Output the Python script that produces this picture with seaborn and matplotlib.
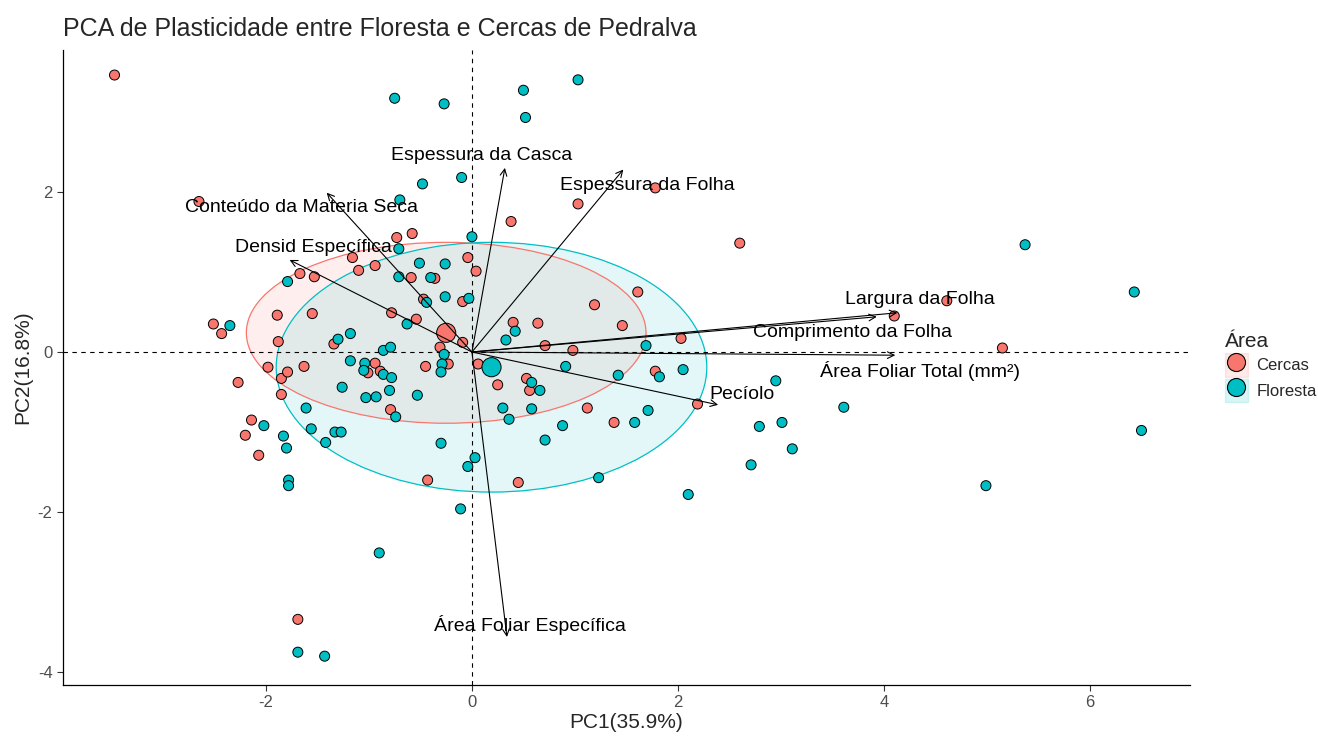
import numpy as np
import pandas as pd
import seaborn as sns
import matplotlib
matplotlib.use("Agg")
import matplotlib.pyplot as plt
from matplotlib.patches import Ellipse, Patch
from matplotlib.lines import Line2D
from matplotlib.legend_handler import HandlerTuple

# scores dos individuos
cercas_pc1 = [-3.47, -2.65, -0.73, -0.58, -1.16, -0.94, -1.10, -1.67, -1.53, -0.59,
              -0.36, -0.47, -1.89, -1.55, -0.78, -0.54, -2.51, -2.43, -1.88, -1.34,
              -0.04, 0.04, -0.09, -0.09, -0.31, 0.38, 1.61, 1.19, 1.46, 0.40,
              0.64, 0.71, 0.98, 2.03, 1.03, 1.78, 2.60, 4.61, 4.10, 5.15,
              0.45, -0.43, 2.19, 1.38, 1.12, 1.78, 0.53, 0.56, 0.25, 0.06,
              -0.45, -0.23, -1.98, -2.27, -1.85, -1.79, -1.63, -1.85, -2.14, -2.20,
              -2.07, -0.94, -1.01, -0.89, -0.79, -1.69]
cercas_pc2 = [3.46, 1.88, 1.43, 1.48, 1.18, 1.08, 1.02, 0.98, 0.94, 0.93,
              0.92, 0.66, 0.46, 0.48, 0.49, 0.41, 0.35, 0.23, 0.13, 0.10,
              1.18, 1.01, 0.63, 0.12, 0.06, 1.63, 0.75, 0.59, 0.33, 0.37,
              0.36, 0.08, 0.02, 0.17, 1.85, 2.05, 1.36, 0.64, 0.45, 0.05,
              -1.63, -1.60, -0.65, -0.88, -0.70, -0.24, -0.33, -0.48, -0.41, -0.15,
              -0.18, -0.15, -0.19, -0.38, -0.33, -0.25, -0.18, -0.53, -0.85, -1.04,
              -1.29, -0.14, -0.26, -0.24, -0.72, -3.34]

floresta_pc1 = [-0.75, -0.48, -0.70, -0.71, -0.51, -1.79, -0.71, -0.40, -0.44, -0.63,
                -2.35, -1.30, -1.18, -0.86, -0.79, 0.00, -0.26, -0.26, -0.03, -0.27,
                0.42, 0.33, 1.69, -0.27, 0.50, 1.03, 0.52, -0.10, 5.37, 6.43,
                3.61, 3.01, 3.11, 4.99, 6.50, 2.95, 2.79, 2.71, 2.10, 1.23,
                -0.11, 0.03, -0.04, -0.30, 1.71, 1.58, 0.88, 0.71, 0.36, 0.30,
                0.58, 2.05, 1.82, 1.42, 0.91, 0.58, 0.66, -0.29, -0.30, -1.61,
                -2.02, -1.83, -1.80, -1.78, -1.78, -1.56, -1.33, -1.27, -1.42, -1.26,
                -1.18, -1.04, -1.05, -0.86, -0.78, -0.80, -1.03, -0.93, -0.74, -0.53,
                -0.90, -1.69, -1.43]
floresta_pc2 = [3.17, 2.10, 1.90, 1.29, 1.11, 0.88, 0.94, 0.93, 0.62, 0.35,
                0.33, 0.16, 0.23, 0.02, 0.06, 1.44, 1.10, 0.69, 0.67, -0.03,
                0.26, 0.15, 0.08, 3.10, 3.27, 3.40, 2.93, 2.18, 1.34, 0.75,
                -0.69, -0.88, -1.21, -1.67, -0.98, -0.36, -0.93, -1.41, -1.78, -1.57,
                -1.96, -1.32, -1.43, -1.14, -0.73, -0.88, -0.92, -1.10, -0.84, -0.70,
                -0.71, -0.22, -0.31, -0.29, -0.18, -0.38, -0.48, -0.15, -0.25, -0.70,
                -0.92, -1.05, -1.20, -1.60, -1.67, -0.96, -1.00, -1.00, -1.13, -0.44,
                -0.11, -0.14, -0.23, -0.28, -0.32, -0.48, -0.57, -0.56, -0.81, -0.54,
                -2.51, -3.75, -3.80]

# centroides dos grupos
grupos = ["Cercas", "Floresta"]
centro_pc1 = [-0.25, 0.19]
centro_pc2 = [0.24, -0.19]
# elipses (semi-eixos)
elipse_a = [1.94, 2.09]
elipse_b = [1.13, 1.56]

# variaveis (setas)
variaveis = ["Espessura da Casca", "Espessura da Folha", "Conteúdo da Materia Seca",
             "Densid Específica", "Largura da Folha", "Comprimento da Folha",
             "Área Foliar Total (mm²)", "Pecíolo", "Área Foliar Específica"]
var_pc1 = [0.32, 1.47, -1.41, -1.77, 4.13, 3.93, 4.11, 2.39, 0.34]
var_pc2 = [2.30, 2.28, 1.99, 1.15, 0.49, 0.44, -0.04, -0.66, -3.56]

cores = {"Cercas": "#F8766D", "Floresta": "#00BFC4"}

df = pd.DataFrame({
    "PC1": cercas_pc1 + floresta_pc1,
    "PC2": cercas_pc2 + floresta_pc2,
    "Área": ["Cercas"] * len(cercas_pc1) + ["Floresta"] * len(floresta_pc1),
})

sns.set_theme(style="white")
plt.rcParams["font.family"] = ["Liberation Sans", "DejaVu Sans"]
plt.rcParams["axes.unicode_minus"] = False

fig = plt.figure(figsize=(13.18, 7.36), dpi=100)
ax = fig.add_axes([0.0478, 0.0693, 0.855, 0.863])

# elipses
for g, cx, cy, a, b in zip(grupos, centro_pc1, centro_pc2, elipse_a, elipse_b):
    ax.add_patch(Ellipse((cx, cy), 2 * a, 2 * b, facecolor=cores[g], alpha=0.11,
                         edgecolor="none", zorder=1))
    ax.add_patch(Ellipse((cx, cy), 2 * a, 2 * b, facecolor="none",
                         edgecolor=cores[g], lw=0.9, zorder=1.5))

ax.axhline(0, color="black", lw=0.8, ls=(0, (4, 4)), zorder=2)
ax.axvline(0, color="black", lw=0.8, ls=(0, (4, 4)), zorder=2)

sns.scatterplot(data=df, x="PC1", y="PC2", hue="Área", palette=cores, s=52,
                edgecolor="black", linewidth=0.7, legend=False, ax=ax, zorder=3)

# centroides
sns.scatterplot(x=centro_pc1, y=centro_pc2, hue=grupos, palette=cores, s=190,
                edgecolor="black", linewidth=0.7, legend=False, ax=ax, zorder=4)

# setas das variaveis
desloc = [(-0.23, 0.16), (0.23, -0.20), (-0.24, -0.18), (0.23, 0.16), (0.22, 0.16),
          (-0.24, -0.20), (0.24, -0.20), (0.23, 0.13), (0.22, 0.15)]
for nome, vx, vy, (dx, dy) in zip(variaveis, var_pc1, var_pc2, desloc):
    ax.annotate("", xy=(vx, vy), xytext=(0, 0),
                arrowprops=dict(arrowstyle="->", color="black", lw=0.8,
                                shrinkA=0, shrinkB=0, mutation_scale=12), zorder=5)
    ax.text(vx + dx, vy + dy, nome, fontsize=14, ha="center", va="center",
            color="black", zorder=6)

ax.set_xlim(-3.97, 6.97)
ax.set_ylim(-4.16, 3.775)
ax.set_xticks([-2, 0, 2, 4, 6])
ax.set_yticks([-4, -2, 0, 2])
ax.tick_params(axis="both", labelsize=12, labelcolor="#4D4D4D", length=4,
               width=0.8, color="#333333", bottom=True, left=True)
for lado in ["top", "right"]:
    ax.spines[lado].set_visible(False)
for lado in ["left", "bottom"]:
    ax.spines[lado].set_color("black")
    ax.spines[lado].set_linewidth(0.9)

ax.set_xlabel("PC1(35.9%)", fontsize=15, labelpad=2)
ax.set_ylabel("PC2(16.8%)", fontsize=15, labelpad=4)
ax.set_title("PCA de Plasticidade entre Floresta e Cercas de Pedralva",
             fontsize=18, loc="left", x=0.0, pad=10)

handles = []
for g in grupos:
    handles.append((Patch(facecolor=cores[g], alpha=0.15, edgecolor=cores[g], lw=1),
                    Line2D([], [], marker="o", ls="none", markersize=13,
                           markerfacecolor=cores[g], markeredgecolor="black",
                           markeredgewidth=0.8)))
leg = ax.legend(handles, grupos, title="Área", loc="center left",
                bbox_to_anchor=(1.025, 0.50), frameon=False, fontsize=12,
                title_fontsize=15, handlelength=1.4, handleheight=1.8,
                handletextpad=0.5, labelspacing=0.12, borderaxespad=0,
                handler_map={tuple: HandlerTuple(ndivide=1)})
leg._legend_box.align = "left"

fig.savefig("out.png", dpi=100)
